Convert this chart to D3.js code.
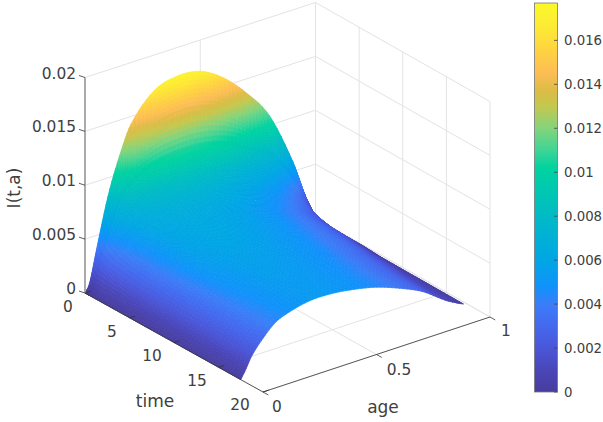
<!DOCTYPE html>
<html>
<head>
<meta charset="utf-8">
<script src="https://cdn.jsdelivr.net/npm/d3@7"></script>
<style>
  html, body { margin: 0; padding: 0; background: #fff; }
  text { font-family: "DejaVu Sans", sans-serif; fill: #404040; }
</style>
</head>
<body>
<div id="chart"></div>
<script>
// Values
const timeTicks = [0, 5, 10, 15, 20];
const ageTicks = [0, 0.5, 1];
const zTicks = [0, 0.005, 0.01, 0.015, 0.02];
const zTickLabels = ["0", "0.005", "0.01", "0.015", "0.02"];
const barTicks = [0, 0.002, 0.004, 0.006, 0.008, 0.01, 0.012, 0.014, 0.016];
const barMax = 0.0177;

const ages = [0, 0.02, 0.05, 0.1, 0.15, 0.2, 0.3, 0.4, 0.5, 0.6, 0.7, 0.8, 0.9, 0.95, 0.98];
const times = [0, 0.25, 0.42, 0.5, 1, 2, 3, 4, 6, 8, 11, 14, 17.5];
// I(t,a), one row per time
const infected = [
  [0, .0008, .0037, .0083, .0117, .0143, .0167, .01735, .0171, .0158, .0137, .0109, .0060, .0027, .0010],
  [0, .0007, .0033, .0074, .0103, .0122, .0139, .0143, .0141, .0132, .0115, .0093, .0052, .0023, .0008],
  [0, .0006, .0030, .0064, .0086, .0095, .0101, .0103, .0102, .0097, .0088, .0076, .0044, .0019, .0006],
  [0, .0006, .0029, .0062, .0084, .0095, .0104, .0106, .0105, .0099, .0087, .0071, .0041, .0017, .0005],
  [0, .0006, .0027, .0053, .0069, .0076, .0081, .0083, .0081, .0075, .0066, .0054, .0031, .0012, .0004],
  [0, .0006, .0025, .0047, .0061, .0067, .0071, .0071, .0068, .0062, .0054, .0043, .0025, .0010, .0003],
  [0, .0006, .0024, .0044, .0057, .0063, .0066, .0065, .0062, .0057, .0049, .0038, .0021, .0009, .0003],
  [0, .0006, .0023, .0042, .0054, .0060, .0063, .0062, .0059, .0053, .0045, .0035, .0019, .0008, .0003],
  [0, .0007, .0023, .0041, .0053, .0058, .0061, .0060, .0056, .0051, .0043, .0033, .0018, .0008, .0003],
  [0, .0007, .0022, .0039, .0051, .0056, .0059, .0058, .0054, .0049, .0041, .0032, .0016, .0007, .0002],
  [0, .0007, .0021, .0036, .0047, .0052, .0056, .0055, .0052, .0047, .0039, .0029, .0014, .0006, .0002],
  [0, .0007, .0020, .0034, .0044, .0049, .0054, .0053, .0050, .0045, .0037, .0027, .0012, .0006, .0002],
  [0, .0007, .0019, .0032, .0042, .0047, .0052, .0052, .0049, .0044, .0036, .0026, .0011, .0005, .0002]
];

// colormap as seen on the colorbar
const colorStops = [0, .001, .002, .003, .004, .0048, .006, .007, .008, .009, .0102, .011, .012, .013, .0137, .0145, .0155, .0165, .0177];
const colorValues = ["#483d9e", "#4a46b8", "#4a56d8", "#4468ee", "#3a7ef8", "#1092fb", "#00a6e4", "#00b0d6",
  "#00bac6", "#00c6b4", "#00d3a0", "#3fd495", "#84d47c", "#c4c84f", "#dbbc45", "#fdbd55", "#fed241", "#fde836", "#fbf92a"];
const color = d3.scaleLinear().domain(colorStops).range(colorValues).clamp(true);

const svg = d3.select("#chart").append("svg")
  .attr("width", 603)
  .attr("height", 422)
  .style("display", "block");

// floor corners of the 3D box on screen (origin, t=20, a=1, both)
const tFrac = d3.scaleLinear().domain([0, 20]).range([0, 1]);
const aFrac = d3.scaleLinear().domain([0, 1]).range([0, 1]);
const zPx = d3.scaleLinear().domain([0, 0.02]).range([0, 215.5]);
const corner00 = [85, 293], corner10 = [263, 392], corner01 = [315.5, 218], corner11 = [490, 317];

function project(t, a, z) {
  const u = tFrac(t), v = aFrac(a);
  const x = (1 - u) * (1 - v) * corner00[0] + u * (1 - v) * corner10[0] + (1 - u) * v * corner01[0] + u * v * corner11[0];
  const y = (1 - u) * (1 - v) * corner00[1] + u * (1 - v) * corner10[1] + (1 - u) * v * corner01[1] + u * v * corner11[1];
  return [x, y - zPx(z)];
}

function addLine(g, p, q, stroke, width) {
  g.append("line")
    .attr("x1", p[0]).attr("y1", p[1])
    .attr("x2", q[0]).attr("y2", q[1])
    .attr("stroke", stroke)
    .attr("stroke-width", width);
}

// Grid on the back walls and the floor
const grid = svg.append("g");
const gridColor = "#e3e3e3";
zTicks.forEach(z => {
  addLine(grid, project(0, 0, z), project(0, 1, z), gridColor, 1);
  addLine(grid, project(0, 1, z), project(20, 1, z), gridColor, 1);
});
ageTicks.forEach(a => {
  addLine(grid, project(0, a, 0), project(20, a, 0), gridColor, 1);
  addLine(grid, project(0, a, 0), project(0, a, 0.02), gridColor, 1);
});
timeTicks.forEach(t => {
  addLine(grid, project(t, 0, 0), project(t, 1, 0), gridColor, 1);
  addLine(grid, project(t, 1, 0), project(t, 1, 0.02), gridColor, 1);
});

// Resample the read values for smooth shading, like an interpolated surf
function hermite(row, a) {
  let i = d3.bisectRight(ages, a) - 1;
  i = Math.max(0, Math.min(ages.length - 2, i));
  const h = ages[i + 1] - ages[i], s = (a - ages[i]) / h;
  const slope = k => {
    if (k <= 0) return (row[1] - row[0]) / (ages[1] - ages[0]);
    if (k >= ages.length - 1) return (row[k] - row[k - 1]) / (ages[k] - ages[k - 1]);
    return (row[k + 1] - row[k - 1]) / (ages[k + 1] - ages[k - 1]);
  };
  const m0 = slope(i), m1 = slope(i + 1);
  const s2 = s * s, s3 = s2 * s;
  return (2 * s3 - 3 * s2 + 1) * row[i] + (s3 - 2 * s2 + s) * h * m0 + (-2 * s3 + 3 * s2) * row[i + 1] + (s3 - s2) * h * m1;
}

const meshTimes = [];
times.slice(0, -1).forEach((t, i) => {
  d3.range(8).forEach(k => meshTimes.push(t + (times[i + 1] - t) * k / 8));
});
meshTimes.push(times[times.length - 1]);
const meshAges = [];
ages.slice(0, -1).forEach((a, i) => {
  d3.range(6).forEach(k => meshAges.push(a + (ages[i + 1] - a) * k / 6));
});
meshAges.push(ages[ages.length - 1]);

function valueAt(t, a) {
  let i = d3.bisectRight(times, t) - 1;
  i = Math.max(0, Math.min(times.length - 2, i));
  const w = (t - times[i]) / (times[i + 1] - times[i]);
  return (1 - w) * hermite(infected[i], a) + w * hermite(infected[i + 1], a);
}

const meshZ = meshTimes.map(t => meshAges.map(a => Math.max(0, valueAt(t, a))));

// far to near: time up, age down
const surface = svg.append("g");
for (let i = 0; i < meshTimes.length - 1; i++) {
  for (let j = meshAges.length - 2; j >= 0; j--) {
    const pts = [
      project(meshTimes[i], meshAges[j], meshZ[i][j]),
      project(meshTimes[i + 1], meshAges[j], meshZ[i + 1][j]),
      project(meshTimes[i + 1], meshAges[j + 1], meshZ[i + 1][j + 1]),
      project(meshTimes[i], meshAges[j + 1], meshZ[i][j + 1])
    ];
    const c = color((meshZ[i][j] + meshZ[i + 1][j] + meshZ[i + 1][j + 1] + meshZ[i][j + 1]) / 4);
    surface.append("path")
      .attr("d", "M" + pts.join("L") + "Z")
      .attr("fill", c)
      .attr("stroke", c)
      .attr("stroke-width", 0.7);
  }
}

// Axes
const axes = svg.append("g");
const axisColor = "#333333";
addLine(axes, project(0, 0, 0), project(20, 0, 0), axisColor, 0.8);
addLine(axes, project(20, 0, 0), project(20, 1, 0), axisColor, 0.8);
addLine(axes, project(0, 0, 0), project(0, 0, 0.02), "#999999", 1.6);

zTicks.forEach((z, i) => {
  const p = project(0, 0, z);
  addLine(axes, p, [p[0] - 6, p[1] - 2], axisColor, 0.8);
  axes.append("text")
    .attr("x", 76)
    .attr("y", p[1] + 1)
    .attr("text-anchor", "end")
    .attr("font-size", 15.4)
    .text(zTickLabels[i]);
});

const timeLabelPos = [[68, 312], [112, 337], [152, 361], [197, 386], [240, 410]];
timeTicks.forEach((t, i) => {
  const p = project(t, 0, 0), q = project(t, 0.025, 0);
  addLine(axes, p, q, axisColor, 0.8);
  axes.append("text")
    .attr("x", timeLabelPos[i][0])
    .attr("y", timeLabelPos[i][1])
    .attr("text-anchor", "middle")
    .attr("font-size", 15.4)
    .text(t);
});

const ageLabelPos = [[277, 412], [399, 375], [506, 336]];
ageTicks.forEach((a, i) => {
  const p = project(20, a, 0), q = project(20.6, a, 0);
  addLine(axes, p, q, axisColor, 0.8);
  axes.append("text")
    .attr("x", ageLabelPos[i][0])
    .attr("y", ageLabelPos[i][1])
    .attr("text-anchor", "middle")
    .attr("font-size", 15.4)
    .text(a);
});

axes.append("text").attr("x", 155).attr("y", 407).attr("text-anchor", "middle").attr("font-size", 17).text("time");
axes.append("text").attr("x", 383).attr("y", 413).attr("text-anchor", "middle").attr("font-size", 17).text("age");
axes.append("text")
  .attr("transform", "translate(20,188) rotate(-90)")
  .attr("text-anchor", "middle")
  .attr("font-size", 17)
  .text("I(t,a)");

// Colorbar
const barY = d3.scaleLinear().domain([0, barMax]).range([392, 3]);
const bar = svg.append("g");
const defs = svg.append("defs");
const grad = defs.append("linearGradient")
  .attr("id", "parula")
  .attr("x1", 0).attr("y1", 1)
  .attr("x2", 0).attr("y2", 0);
colorStops.forEach((s, i) => {
  grad.append("stop").attr("offset", s / barMax).attr("stop-color", colorValues[i]);
});
bar.append("rect")
  .attr("x", 534.5)
  .attr("y", barY(barMax))
  .attr("width", 23)
  .attr("height", barY(0) - barY(barMax))
  .attr("fill", "url(#parula)")
  .attr("stroke", "#777777")
  .attr("stroke-width", 0.8);
barTicks.forEach(v => {
  addLine(bar, [554, barY(v)], [557.5, barY(v)], "#444444", 0.8);
  bar.append("text")
    .attr("x", 564)
    .attr("y", barY(v) + 5)
    .attr("font-size", 13.3)
    .text(v);
});
</script>
</body>
</html>
